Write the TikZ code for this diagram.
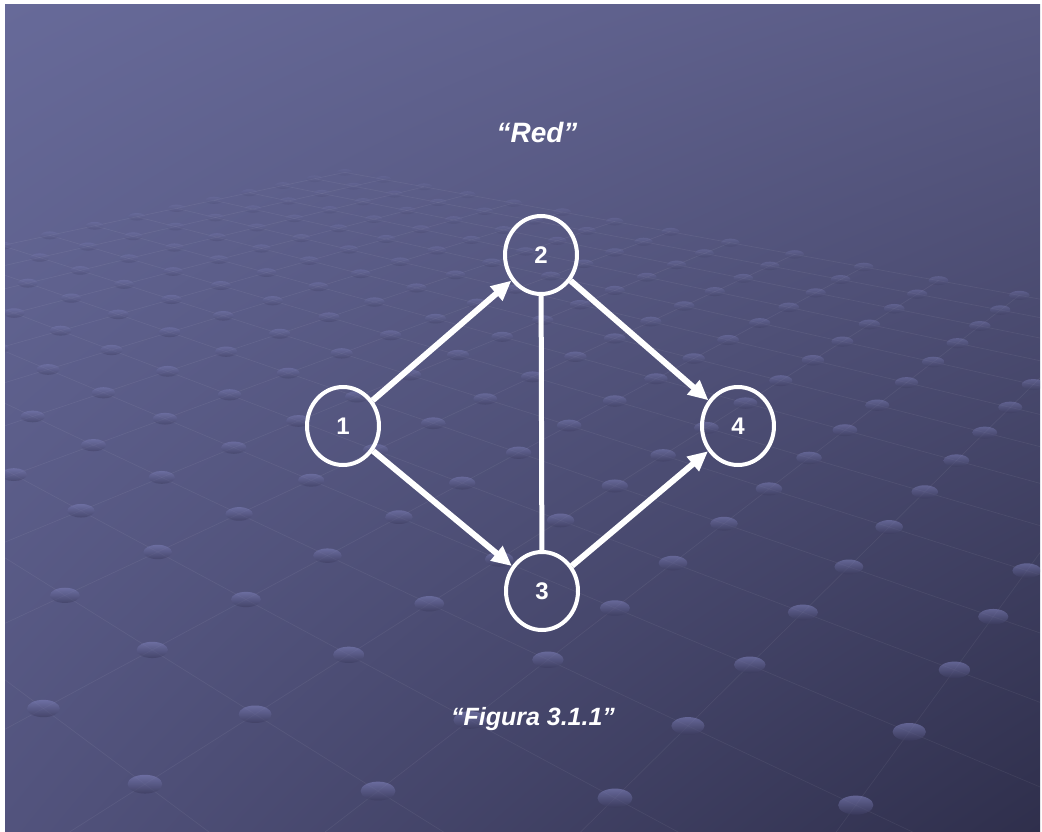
\documentclass[tikz,border=0pt]{standalone}
\usepackage{fontspec}
\setmainfont{Liberation Sans}
\usetikzlibrary{arrows.meta,shapes.geometric,shadings}

\definecolor{fondoa}{RGB}{103,106,153}
\definecolor{fondob}{RGB}{90,91,133}
\definecolor{fondoc}{RGB}{82,83,125}
\definecolor{fondod}{RGB}{47,47,76}
\definecolor{puntoa}{RGB}{128,130,188}
\definecolor{puntob}{RGB}{58,58,92}

\tikzset{
  vertice/.style={draw=white, line width=4pt, shape=ellipse, minimum width=72pt,
    minimum height=78pt, inner sep=0pt, text=white, font=\bfseries\fontsize{24}{24}\selectfont},
  flecha/.style={white, line width=6pt, -{Triangle[length=20pt,width=18pt]}},
  arista/.style={white, line width=5pt},
  titulo/.style={text=white, anchor=base, font=\bfseries\itshape\fontsize{#1}{#1}\selectfont},
}

\begin{document}
\begin{tikzpicture}[x=1pt,y=-1pt,
  declare function={pz(\a,\b)=8.66+0.781*\a+0.851*\b;
    px(\a,\b)=0.667+0.625*\a-1.065*\b;
    sx(\a,\b)=521+1220*(px(\a,\b)/pz(\a,\b));
    sy(\a,\b)=-74+7552/pz(\a,\b);}]

\fill[white] (0,0) rectangle (1042,832);

\begin{scope}
\clip (5,5) rectangle (1040,832);
\shade[upper left=fondoa, upper right=fondob, lower left=fondoc, lower right=fondod] (5,5) rectangle (1040,832);
%rejilla en perspectiva
\foreach \i in {-3,...,14}
  \draw[white, opacity=0.06, line width=0.7pt] ({sx(\i,-2)},{sy(\i,-2)})--({sx(\i,13)},{sy(\i,13)});
\foreach \j in {-2,...,13}
  \draw[white, opacity=0.06, line width=0.7pt] ({sx(-3,\j)},{sy(-3,\j)})--({sx(14,\j)},{sy(14,\j)});
\foreach \i in {-3,...,14}
  \foreach \j in {-2,...,13}{
    \pgfmathsetmacro\zz{pz(\i,\j)}
    \pgfmathsetmacro\op{max(0.08,0.8-0.022*\zz)}
    \pgfmathsetmacro\rx{17.5*pow(8.66/\zz,0.63)}
    \pgfmathsetmacro\ry{9.5*pow(8.66/\zz,0.85)}
    \shade[top color=puntoa, bottom color=puntob, opacity=\op] ({sx(\i,\j)},{sy(\i,\j)}) ellipse [x radius=\rx pt, y radius=\ry pt];
  }
\end{scope}

\node[titulo=28] (red) at (537,143) {“Red”};
\node[titulo=25] (figura) at (533,725) {“Figura 3.1.1”};

\node[vertice] (n1) at (343,426) {1};
\node[vertice] (n2) at (541,255) {2};
\node[vertice] (n3) at (542,591) {3};
\node[vertice] (n4) at (738,426) {4};

\draw[flecha] (n1)--(n2);
\draw[flecha] (n1)--(n3);
\draw[flecha] (n2)--(n4);
\draw[flecha] (n3)--(n4);
\draw[arista] (n2)--(n3);
\end{tikzpicture}
\end{document}
